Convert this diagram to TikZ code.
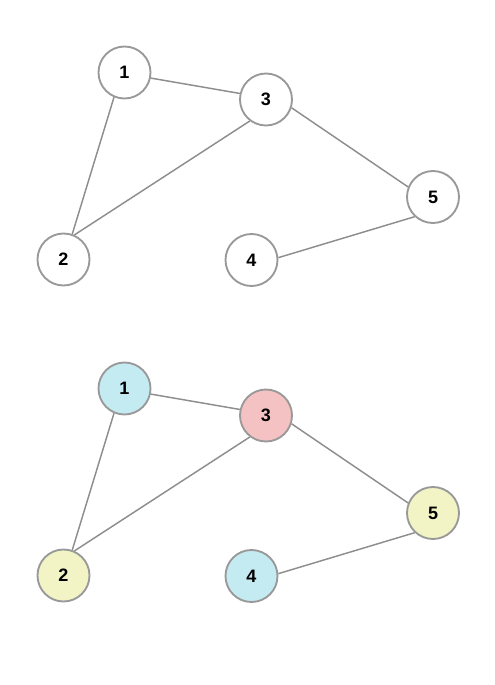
\documentclass[tikz,border=0pt]{standalone}
\usepackage{fontspec}
\setmainfont{Liberation Sans}
\usepackage{xcolor}
\definecolor{edgegray}{HTML}{8E8E8E}
\definecolor{ringgray}{HTML}{999999}
\definecolor{cyanfill}{HTML}{C4EBF2}
\definecolor{pinkfill}{HTML}{F4C2C2}
\definecolor{yellowfill}{HTML}{F2F4C6}
\tikzset{
  vertex/.style={circle,draw=ringgray,line width=1.4pt,fill=white,
    minimum size=39pt,inner sep=0pt,font=\bfseries\fontsize{13.5}{13.5}\selectfont},
  link/.style={draw=edgegray,line width=1.1pt}
}
\begin{document}
\begin{tikzpicture}[x=0.75pt,y=-0.75pt]
 \useasboundingbox (0,0) rectangle (495,685);
 \begin{scope}
  \foreach \n/\x/\y in {1/124.5/72.5,3/266/99.5,5/433/197,2/63.5/259.5,4/251.5/260}
   \node[vertex] (t\n) at (\x,\y) {\n};
  \foreach \a/\p/\b/\q in {1/-12/3/167,1/247/2/71,3/233/2/66,3/-18/5/158,5/227/4/5}
   \draw[link] (t\a.\p) -- (t\b.\q);
 \end{scope}
 \begin{scope}[yshift=-237pt]
  \foreach \n/\x/\y/\c in {1/124.5/72.5/cyanfill,3/266/99.5/pinkfill,5/433/197/yellowfill,2/63.5/259.5/yellowfill,4/251.5/260/cyanfill}
   \node[vertex,fill=\c] (b\n) at (\x,\y) {\n};
  \foreach \a/\p/\b/\q in {1/-12/3/167,1/247/2/71,3/233/2/66,3/-18/5/158,5/227/4/5}
   \draw[link] (b\a.\p) -- (b\b.\q);
 \end{scope}
\end{tikzpicture}
\end{document}
